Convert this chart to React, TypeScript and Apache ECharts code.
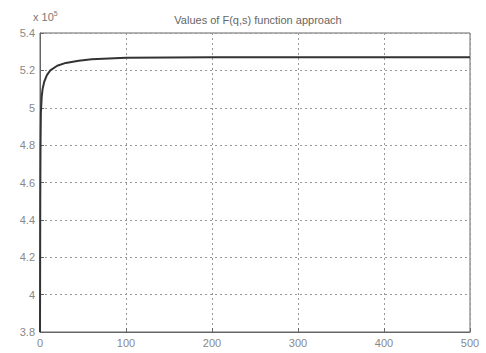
import React, { useEffect, useRef } from "react";
import * as echarts from "echarts";

const xValues = [0, 0.3, 0.6, 1, 2, 3, 5, 8, 12, 20, 30, 45, 60, 80, 100, 150, 200, 300, 400, 500];
const yValues = [3.8, 4.5, 4.8, 4.97, 5.06, 5.1, 5.14, 5.175, 5.2, 5.225, 5.24, 5.252, 5.259, 5.264, 5.267, 5.269, 5.27, 5.27, 5.27, 5.27];
const xTicks = [0, 100, 200, 300, 400, 500];
const titleText = "Values of F(q,s) function approach";

export default function App() {
  const ref = useRef<HTMLDivElement>(null);
  useEffect(() => {
    if (!ref.current) return;
    const chart = echarts.init(ref.current, null, { renderer: "svg" });
    const data = xValues.map((x, i) => [x, yValues[i]]);
    chart.setOption({
      animation: false,
      backgroundColor: "#fff",
      title: {
        text: titleText,
        left: 253,
        textAlign: "center",
        top: 9,
        textStyle: { fontSize: 11, fontWeight: "normal", color: "#666", fontFamily: "Liberation Sans" },
      },
      graphic: [
        {
          type: "text",
          left: 33,
          top: 10,
          style: {
            text: "{a|x 10}{b|5}",
            rich: {
              a: { fontSize: 11, fill: "#777", fontFamily: "Liberation Sans" },
              b: { fontSize: 7, fill: "#777", fontFamily: "Liberation Sans", verticalAlign: "top", padding: [0, 0, 6, 0] },
            },
          },
        },
      ],
      grid: {
        left: 40,
        right: 16,
        top: 33,
        bottom: 21,
        show: true,
        borderColor: "#666",
        borderWidth: 1,
      },
      xAxis: {
        type: "value",
        min: 0,
        max: 500,
        interval: 100,
        axisLine: { show: true, onZero: false, lineStyle: { color: "#666" } },
        axisTick: { show: true, inside: true, length: 4, lineStyle: { color: "#666" } },
        axisLabel: {
          color: "#888",
          fontSize: 11,
          fontFamily: "Liberation Sans",
          margin: 5,
          formatter: (v: number) => (xTicks.includes(v) ? String(v) : ""),
        },
        splitLine: { show: true, lineStyle: { type: [2, 3], color: "#999" } },
      },
      yAxis: {
        type: "value",
        min: 3.8,
        max: 5.4,
        interval: 0.2,
        axisLine: { show: true, onZero: false, lineStyle: { color: "#666" } },
        axisTick: { show: true, inside: true, length: 4, lineStyle: { color: "#666" } },
        axisLabel: {
          color: "#888",
          fontSize: 11,
          fontFamily: "Liberation Sans",
          margin: 5,
          formatter: (v: number) => String(Math.round(v * 10) / 10),
        },
        splitLine: { show: true, lineStyle: { type: [2, 3], color: "#999" } },
      },
      series: [
        {
          type: "line",
          data,
          showSymbol: false,
          smooth: false,
          lineStyle: { color: "#333", width: 2 },
          clip: true,
        },
      ],
    });
    return () => chart.dispose();
  }, []);
  return <div ref={ref} style={{ width: 486, height: 353, position: "absolute", left: 0, top: 0 }} />;
}
